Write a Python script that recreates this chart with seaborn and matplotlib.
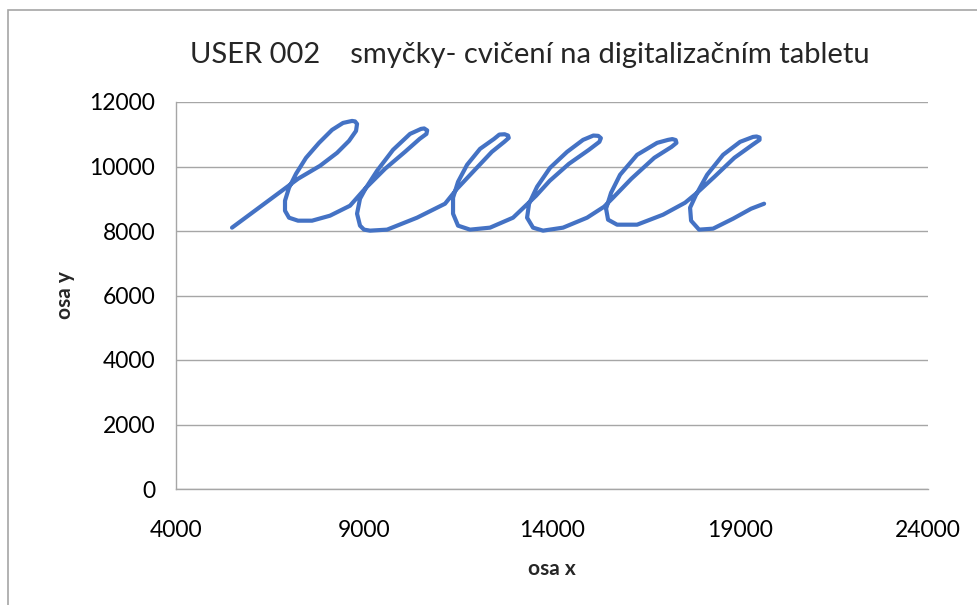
import matplotlib
matplotlib.use("Agg")
import matplotlib.pyplot as plt
import seaborn as sns
import pandas as pd
from matplotlib.patches import Rectangle

TITLE = "USER 002    smyčky- cvičení na digitalizačním tabletu"
X_LABEL = "osa x"
Y_LABEL = "osa y"

# pen trajectory (in drawing order)
osa_x = [
    5490, 6314, 7245, 7830, 8283, 8602, 8788, 8815, 8761, 8682, 8442,
    8150, 7804, 7458, 7192, 7006, 6899, 6899, 7006, 7245, 7618,
    8096, 8628, 9027, 9560, 10090, 10480, 10660, 10680, 10600, 10517, 10224,
    9772, 9347, 9054, 8894, 8815, 8894, 9001, 9160, 9613, 10411, 11155,
    11475, 11950, 12400, 12730, 12850, 12830, 12740, 12600, 12459, 12086, 11741,
    11501, 11368, 11368, 11501, 11820, 12352, 12964, 13576, 13940, 14450,
    14980, 15260, 15300, 15230, 15100, 14826, 14401, 13948, 13603, 13390, 13337,
    13496, 13762, 14294, 14933, 15385, 15624, 16110, 16720, 17180, 17310,
    17290, 17200, 17087, 16795, 16263, 15810, 15571, 15438, 15491, 15731, 16263,
    16954, 17539, 17859, 18320, 18850, 19330, 19520, 19520, 19440, 19348, 19002,
    18550, 18125, 17832, 17672, 17699, 17912, 18284, 18816, 19295, 19641,
]
osa_y = [
    8104, 8815, 9619, 10021, 10423, 10795, 11104, 11320, 11398, 11413, 11351,
    11135, 10733, 10269, 9774, 9341, 8939, 8629, 8413, 8320, 8320,
    8475, 8784, 9310, 9929, 10454, 10856, 11010, 11120, 11180, 11166, 11011,
    10516, 9867, 9341, 9001, 8537, 8166, 8042, 8011, 8042, 8413, 8846,
    9310, 9898, 10454, 10764, 10887, 10960, 11000, 10990, 10856, 10547, 10052,
    9526, 9032, 8537, 8166, 8042, 8104, 8413, 9093, 9557, 10083,
    10516, 10764, 10880, 10950, 10960, 10826, 10454, 9959, 9372, 8846, 8413,
    8104, 8011, 8104, 8413, 8753, 9032, 9619, 10269, 10609, 10733,
    10820, 10850, 10826, 10733, 10362, 9743, 9186, 8691, 8351, 8196, 8196,
    8506, 8877, 9186, 9681, 10269, 10671, 10826, 10900, 10930, 10918, 10764,
    10362, 9743, 9124, 8722, 8320, 8042, 8073, 8382, 8691, 8846,
]

x_ticks = [4000, 9000, 14000, 19000, 24000]
y_ticks = [0, 2000, 4000, 6000, 8000, 10000, 12000]

GRID = "#a6a6a6"


def main():
    sns.set_theme(style="white")
    plt.rcParams["font.family"] = ["Lato", "DejaVu Sans"]

    df = pd.DataFrame({"x": osa_x, "y": osa_y})

    fig = plt.figure(figsize=(9.77, 6.05), dpi=100)
    ax = fig.add_axes([176 / 977, 1 - 489 / 605, (928 - 176) / 977, (489 - 102) / 605])

    sns.lineplot(data=df, x="x", y="y", sort=False, estimator=None,
                 color="#4472C4", linewidth=3, ax=ax,
                 solid_joinstyle="round", solid_capstyle="round")

    ax.set_xlim(x_ticks[0], x_ticks[-1])
    ax.set_ylim(y_ticks[0], y_ticks[-1])
    ax.set_xticks(x_ticks)
    ax.set_yticks(y_ticks)
    ax.tick_params(axis="both", labelsize=16.5, colors=GRID, labelcolor="black",
                   length=5, width=1, direction="out")
    ax.tick_params(axis="x", pad=17)
    ax.tick_params(axis="y", pad=10)
    ax.yaxis.grid(True, color=GRID, linewidth=1)
    ax.xaxis.grid(False)
    for side in ["top", "right"]:
        ax.spines[side].set_visible(False)
    for side in ["left", "bottom"]:
        ax.spines[side].set_color(GRID)
        ax.spines[side].set_linewidth(1)

    ax.set_xlabel(X_LABEL, fontsize=15, fontweight="bold", labelpad=13)
    ax.set_ylabel(Y_LABEL, fontsize=15, fontweight="bold", labelpad=10)

    fig.text(0.542, 1 - 55 / 605, TITLE, fontsize=21, ha="center", va="center")

    # chart area frame, as in the spreadsheet export
    fig.patches.append(Rectangle((8 / 977, -0.1), 1.2, 1 - 10 / 605 + 0.1,
                                 transform=fig.transFigure, fill=False,
                                 edgecolor="#a6a6a6", linewidth=1.2))

    fig.savefig("out.png", dpi=100)


if __name__ == "__main__":
    main()
